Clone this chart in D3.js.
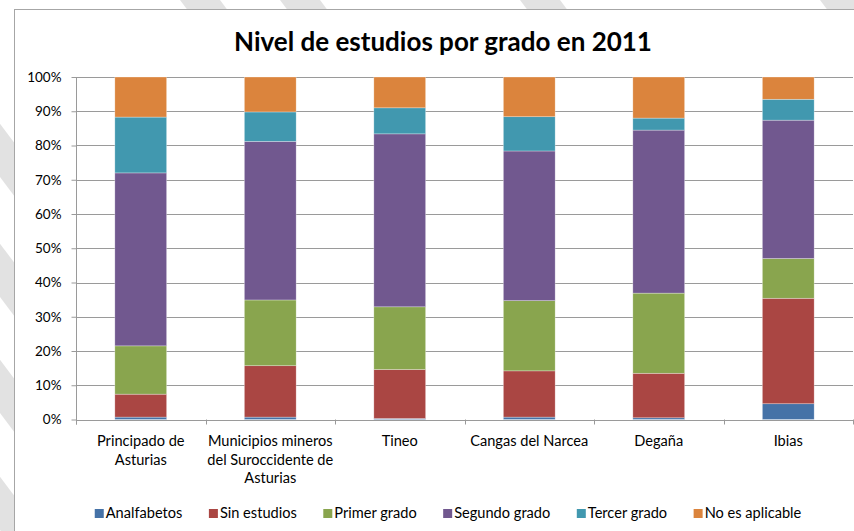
<!DOCTYPE html>
<html>
<head>
<meta charset="utf-8">
<title>Nivel de estudios por grado en 2011</title>
<script src="https://d3js.org/d3.v7.min.js"></script>
<style>
  body { margin: 0; background: #fff; }
  svg { display: block; font-family: Lato, "Open Sans", sans-serif; }
</style>
</head>
<body>
<script>
// datos (porcentaje de cada grupo)
var categories = ["Principado de Asturias", "Municipios mineros del Suroccidente de Asturias",
                  "Tineo", "Cangas del Narcea", "Degaña", "Ibias"];
var categoryLines = [["Principado de", "Asturias"],
                     ["Municipios mineros", "del Suroccidente de", "Asturias"],
                     ["Tineo"], ["Cangas del Narcea"], ["Degaña"], ["Ibias"]];
var seriesNames = ["Analfabetos", "Sin estudios", "Primer grado", "Segundo grado", "Tercer grado", "No es aplicable"];
var analfabetos   = [0.7, 0.7, 0.3, 0.7, 0.5, 4.6];
var sinEstudios   = [6.7, 15.0, 14.3, 13.5, 13.0, 30.8];
var primerGrado   = [14.1, 19.2, 18.3, 20.5, 23.4, 11.6];
var segundoGrado  = [50.5, 46.3, 50.5, 43.7, 47.6, 40.4];
var tercerGrado   = [16.3, 8.6, 7.6, 10.0, 3.5, 6.1];
var noAplicable   = [11.7, 10.2, 9.0, 11.6, 12.0, 6.5];
var yTicks = [0, 0.1, 0.2, 0.3, 0.4, 0.5, 0.6, 0.7, 0.8, 0.9, 1];
var colors = ["#4572A7", "#AA4643", "#89A54E", "#71588F", "#4198AF", "#DB843D"];

var width = 854, height = 531;
var margin = {left: 76, right: 1, top: 77, bottom: 111};

var svg = d3.select("body").append("svg")
    .attr("width", width)
    .attr("height", height);

// franjas grises del fondo
var stripes = [[-60, 97], [-60, 217], [-60, 333], [-60, 450], [-60, 570],
               [150, -40], [250, -40], [490, -40], [790, -40]];
svg.append("g").selectAll("path")
  .data(stripes).enter().append("path")
  .attr("d", function(d) {
    return "M" + d[0] + "," + d[1] + " l40,0 l120,160 l-40,0 Z";
  })
  .attr("fill", "#e2e2e2");

// marco del gráfico
svg.append("rect")
  .attr("x", 14.5).attr("y", 9.5)
  .attr("width", 900).attr("height", 600)
  .attr("fill", "#fff")
  .attr("stroke", "#a6a6a6");

svg.append("text")
  .attr("x", 443).attr("y", 51)
  .attr("text-anchor", "middle")
  .attr("font-size", 26)
  .attr("font-weight", "bold")
  .attr("fill", "#000")
  .text("Nivel de estudios por grado en 2011");

var rows = categories.map(function(c, i) {
  return {cat: c, "Analfabetos": analfabetos[i], "Sin estudios": sinEstudios[i],
          "Primer grado": primerGrado[i], "Segundo grado": segundoGrado[i],
          "Tercer grado": tercerGrado[i], "No es aplicable": noAplicable[i]};
});

var stack = d3.stack().keys(seriesNames).offset(d3.stackOffsetExpand);
var series = stack(rows);

var x = d3.scaleBand()
    .domain(categories)
    .range([margin.left, width - margin.right])
    .paddingInner(0.6)
    .paddingOuter(0.3);

var y = d3.scaleLinear()
    .domain([0, 1])
    .range([height - margin.bottom - 0.5, margin.top]);

// líneas de cuadrícula
svg.append("g").selectAll("line")
  .data(yTicks).enter().append("line")
  .attr("x1", margin.left).attr("x2", width - margin.right)
  .attr("y1", function(d) { return Math.round(y(d)) + 0.5; })
  .attr("y2", function(d) { return Math.round(y(d)) + 0.5; })
  .attr("stroke", "#9a9a9a");

svg.append("g").selectAll("g")
  .data(series).enter().append("g")
  .attr("fill", function(d, i) { return colors[i]; })
  .selectAll("rect")
  .data(function(d) { return d; }).enter().append("rect")
  .attr("x", function(d) { return x(d.data.cat); })
  .attr("width", x.bandwidth())
  .attr("y", function(d) { return y(d[1]); })
  .attr("height", function(d) { return y(d[0]) - y(d[1]); })
  .attr("stroke", "rgba(255,255,255,0.5)")
  .attr("stroke-width", 0.6);

// eje Y
var yAxis = svg.append("g")
  .attr("transform", "translate(" + (margin.left + 0.5) + ",0)")
  .call(d3.axisLeft(y).tickValues(yTicks).tickFormat(d3.format(".0%")).tickSize(5).tickPadding(10));
yAxis.select(".domain").attr("stroke", "#9a9a9a").attr("d", "M0," + y(1) + "V" + (y(0) + 5));
yAxis.selectAll(".tick line").attr("stroke", "#9a9a9a");
yAxis.selectAll(".tick text").attr("font-size", 13.5).attr("fill", "#000")
  .attr("font-family", "Lato, sans-serif");

// eje X
var x0 = y(0);
svg.append("line")
  .attr("x1", margin.left).attr("x2", width - margin.right)
  .attr("y1", Math.round(x0) + 0.5).attr("y2", Math.round(x0) + 0.5)
  .attr("stroke", "#9a9a9a");
var bounds = d3.range(categories.length + 1).map(function(i) {
  return margin.left + i * x.step();
});
svg.append("g").selectAll("line")
  .data(bounds).enter().append("line")
  .attr("x1", function(d) { return Math.round(d) + 0.5; })
  .attr("x2", function(d) { return Math.round(d) + 0.5; })
  .attr("y1", x0).attr("y2", x0 + 5)
  .attr("stroke", "#9a9a9a");

svg.append("g").selectAll("text")
  .data(categories).enter().append("text")
  .attr("x", function(d) { return x(d) + x.bandwidth() / 2; })
  .attr("y", 446)
  .attr("text-anchor", "middle")
  .attr("font-size", 14.6)
  .attr("fill", "#000")
  .each(function(d, i) {
    var t = d3.select(this);
    categoryLines[i].forEach(function(line, j) {
      t.append("tspan")
        .attr("x", x(d) + x.bandwidth() / 2)
        .attr("dy", j === 0 ? 0 : 18.5)
        .text(line);
    });
  });

// leyenda
var legend = svg.append("g");
var items = legend.selectAll("g")
  .data(seriesNames).enter().append("g");
items.append("rect")
  .attr("width", 9).attr("height", 9)
  .attr("y", 509)
  .attr("fill", function(d, i) { return colors[i]; });
items.append("text")
  .attr("x", 11).attr("y", 518)
  .attr("font-size", 14.6)
  .attr("fill", "#000")
  .text(function(d) { return d; });
var pos = 0, gap = 26.5, starts = [];
items.each(function() {
  starts.push(pos);
  pos += 11 + this.querySelector("text").getComputedTextLength() + gap;
});
var total = pos - gap, left = 448 - total / 2;
items.attr("transform", function(d, i) { return "translate(" + (left + starts[i]) + ",0)"; });
</script>
</body>
</html>
